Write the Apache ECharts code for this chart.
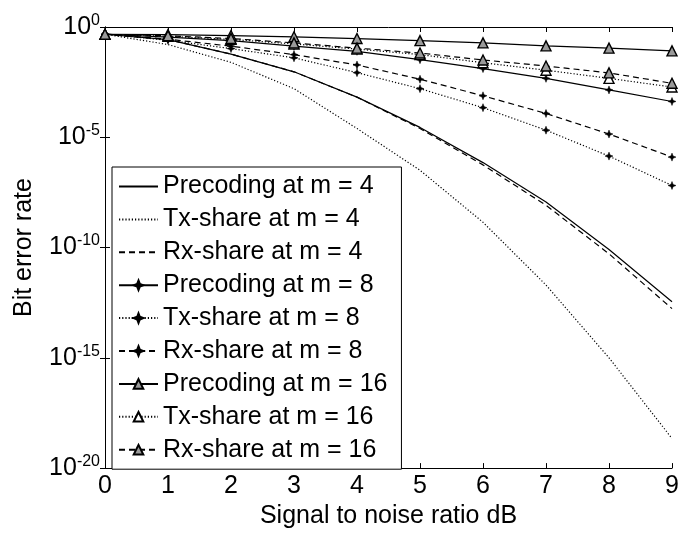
<!DOCTYPE html>
<html>
<head>
<meta charset="utf-8">
<script src="https://cdn.jsdelivr.net/npm/echarts@6/dist/echarts.min.js"></script>
<style>html,body{margin:0;padding:0;background:#fff;}#c{width:690px;height:534px;}</style>
</head>
<body>
<div id="c"></div>
<script>
// x: signal to noise ratio (dB)
const snr = [0, 1, 2, 3, 4, 5, 6, 7, 8, 9];
const yTicks = [1e-20, 1e-15, 1e-10, 1e-5, 1];

// Bit error rate readings
const precoding4 = [4.7e-1, 2.7e-1, 5.9e-2, 9.3e-3, 6.6e-4, 2.8e-5, 7.1e-7, 1.17e-8, 8.1e-11, 3.5e-13];
const txShare4   = [4.7e-1, 1.6e-1, 2.5e-2, 1.6e-3, 2.5e-5, 3.2e-7, 1.4e-9, 2.0e-12, 1.0e-15, 2.2e-19];
const rxShare4   = [4.7e-1, 2.7e-1, 5.9e-2, 9.3e-3, 6.6e-4, 2.5e-5, 5.6e-7, 8.3e-9, 5.2e-11, 1.7e-13];
const precoding8 = [4.7e-1, 3.5e-1, 2.4e-1, 1.35e-1, 7.9e-2, 3.3e-2, 1.3e-2, 4.7e-3, 1.4e-3, 4.2e-4];
const txShare8   = [4.7e-1, 2.5e-1, 1.05e-1, 4.0e-2, 8.5e-3, 1.6e-3, 2.2e-4, 2.1e-5, 1.4e-6, 6.5e-8];
const rxShare8   = [4.7e-1, 2.8e-1, 1.35e-1, 5.6e-2, 1.9e-2, 4.3e-3, 7.6e-4, 1.2e-4, 1.4e-5, 1.26e-6];
const precoding16 = [4.7e-1, 4.5e-1, 4.1e-1, 3.6e-1, 3.0e-1, 2.4e-1, 1.9e-1, 1.4e-1, 1.1e-1, 8.3e-2];
const txShare16   = [4.7e-1, 3.8e-1, 2.75e-1, 1.7e-1, 1.0e-1, 5.6e-2, 2.4e-2, 1.1e-2, 4.7e-3, 1.9e-3];
const rxShare16   = [4.7e-1, 4.0e-1, 3.0e-1, 1.9e-1, 1.1e-1, 6.6e-2, 3.2e-2, 1.7e-2, 8.3e-3, 2.8e-3];

const names = [
  'Precoding at m = 4', 'Tx-share at m = 4', 'Rx-share at m = 4',
  'Precoding at m = 8', 'Tx-share at m = 8', 'Rx-share at m = 8',
  'Precoding at m = 16', 'Tx-share at m = 16', 'Rx-share at m = 16'
];
const dataSets = [precoding4, txShare4, rxShare4, precoding8, txShare8, rxShare8, precoding16, txShare16, rxShare16];

const FONT = '"Liberation Sans", Arial, Helvetica, sans-serif';
const DASH = [6, 4];
const DOT = [1.2, 2];
const lineTypes = ['solid', DOT, DASH, 'solid', DOT, DASH, 'solid', DOT, DASH];
const starPath = 'path://M0,-5 L1.4,-1.4 L5,0 L1.4,1.4 L0,5 L-1.4,1.4 L-5,0 L-1.4,-1.4 Z';

function symbolFor(i) {
  if (i < 3) return {symbol: 'none'};
  if (i < 6) return {symbol: starPath, symbolSize: 8, itemStyle: {color: '#000', borderColor: '#000', borderWidth: 0.5}};
  const fill = (i === 7) ? '#fff' : '#9a9a9a';
  return {symbol: 'triangle', symbolSize: 10, itemStyle: {color: fill, borderColor: '#000', borderWidth: 1.4}};
}

const series = dataSets.map((d, i) => Object.assign({
  name: names[i],
  type: 'line',
  data: snr.map((x, k) => [x, d[k]]),
  showSymbol: i >= 3,
  color: '#000',
  lineStyle: {color: '#000', width: 1.2, type: lineTypes[i]},
  emphasis: {disabled: true},
  animation: false,
  z: 2 + i
}, symbolFor(i)));

const legendData = names.map((n, i) => {
  const o = {name: n};
  if (i < 3) o.itemStyle = {color: 'rgba(0,0,0,0)', borderColor: 'rgba(0,0,0,0)', borderWidth: 0, opacity: 0};
  return o;
});

const chart = echarts.init(document.getElementById('c'), null, {renderer: 'canvas'});
chart.setOption({
  backgroundColor: '#fff',
  animation: false,
  textStyle: {fontFamily: FONT, color: '#000'},
  grid: {left: 105, right: 18, top: 27, bottom: 59, containLabel: false},
  legend: {
    orient: 'vertical',
    left: 112, top: 167,
    padding: [7, 14, 7, 6],
    itemGap: 7.9,
    itemWidth: 39,
    itemHeight: 12,
    backgroundColor: '#fff',
    borderColor: '#000',
    borderWidth: 1,
    borderRadius: 0,
    selectedMode: false,
    textStyle: {fontFamily: FONT, fontSize: 25, color: '#000', lineHeight: 25, padding: [0, 0, 0, 0]},
    data: legendData
  },
  xAxis: [{
    type: 'value', min: 0, max: 9, interval: 1,
    name: 'Signal to noise ratio dB', nameLocation: 'middle', nameGap: 30,
    nameTextStyle: {fontFamily: FONT, fontSize: 25, color: '#000', lineHeight: 25},
    axisLine: {show: true, lineStyle: {color: '#000', width: 1}},
    axisTick: {show: true, inside: true, length: 5, lineStyle: {color: '#000'}},
    axisLabel: {fontFamily: FONT, fontSize: 25, color: '#000', margin: 6, lineHeight: 25},
    splitLine: {show: false}
  }, {
    type: 'value', min: 0, max: 9, interval: 1, position: 'top',
    axisLine: {show: true, lineStyle: {color: '#000', width: 1}},
    axisTick: {show: true, inside: true, length: 5, lineStyle: {color: '#000'}},
    axisLabel: {show: false},
    splitLine: {show: false}
  }],
  yAxis: [{
    type: 'log', logBase: 10, min: yTicks[0], max: yTicks[yTicks.length - 1], interval: 5,
    name: 'Bit error rate', nameLocation: 'middle', nameGap: 68,
    nameTextStyle: {fontFamily: FONT, fontSize: 25, color: '#000', lineHeight: 25},
    axisLine: {show: true, lineStyle: {color: '#000', width: 1}},
    axisTick: {show: true, inside: true, length: 5, lineStyle: {color: '#000'}},
    axisLabel: {
      margin: 5,
      formatter: v => '{b|10}{s|' + Math.round(Math.log10(v)) + '}',
      rich: {
        b: {fontFamily: FONT, fontSize: 25, color: '#000'},
        s: {fontFamily: FONT, fontSize: 16, color: '#000', padding: [0, 0, 13, 0]}
      }
    },
    splitLine: {show: false}
  }, {
    type: 'log', logBase: 10, min: yTicks[0], max: yTicks[yTicks.length - 1], interval: 5, position: 'right',
    axisLine: {show: true, lineStyle: {color: '#000', width: 1}},
    axisTick: {show: true, inside: true, length: 5, lineStyle: {color: '#000'}},
    axisLabel: {show: false},
    splitLine: {show: false}
  }],
  series: series
});
</script>
</body>
</html>
